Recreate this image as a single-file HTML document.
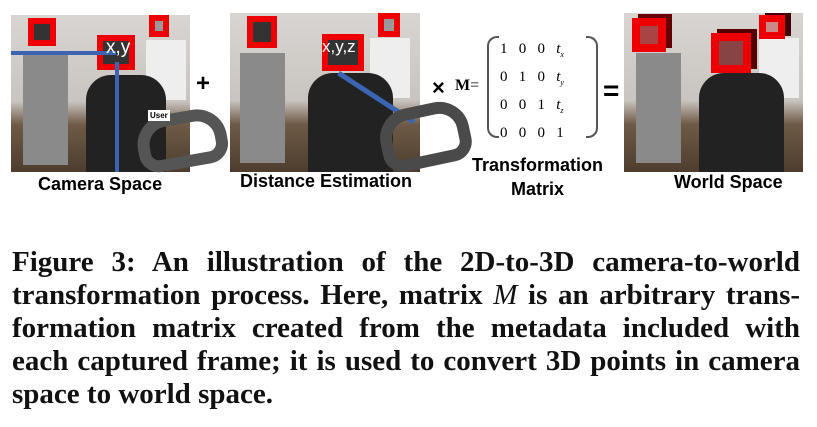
<!DOCTYPE html>
<html><head><style>
body{margin:0;width:817px;height:427px;background:#fff;position:relative;overflow:hidden;font-family:"Liberation Sans",sans-serif}
.a{position:absolute}
.photo{position:absolute;overflow:hidden;background:linear-gradient(#d8d5d2 0%,#c9c4bf 55%,#6e5a46 70%,#4e3d2e 100%)}
.rb{position:absolute;border:6px solid #e00;box-sizing:border-box;background:#333}
.lbl{position:absolute;font-weight:bold;font-size:18px;color:#000}
.cap{position:absolute;left:12px;width:788px;font-family:"Liberation Serif",serif;font-weight:bold;font-size:29px;line-height:33px;text-align:justify;text-align-last:justify;color:#111;white-space:nowrap}
.cap.last{text-align-last:left}
</style></head><body>
<!-- photo 1 -->
<div class="photo" style="left:11px;top:15px;width:179px;height:157px">
 <div class="a" style="left:12px;top:40px;width:45px;height:110px;background:#8a8a8a"></div>
 <div class="a" style="left:135px;top:25px;width:40px;height:60px;background:#eee"></div>
 <div class="a" style="left:75px;top:60px;width:80px;height:97px;background:#222;border-radius:25px 25px 0 0"></div>
 <div class="rb" style="left:17px;top:3px;width:28px;height:28px"></div>
 <div class="rb" style="left:138px;top:0px;width:20px;height:22px;background:#999"></div>
 <div class="rb" style="left:86px;top:20px;width:38px;height:35px"></div>
 <div class="a" style="left:0;top:36px;width:105px;height:4px;background:#3b64b3"></div>
 <div class="a" style="left:104px;top:47px;width:4px;height:110px;background:#3b64b3"></div>
 <div class="a" style="left:95px;top:22px;color:#fff;font-size:19px">x,y</div>
</div>
<div class="a" style="left:137px;top:112px;width:90px;height:56px;border:12px solid #555;border-radius:30px 30px 20px 20px;box-sizing:border-box;transform:rotate(-10deg)"></div>
<div class="a" style="left:148px;top:110px;background:#fff;font-size:8px;font-weight:bold;padding:1px 2px">User</div>
<div class="a" style="left:196px;top:70px;font-size:24px;font-weight:bold">+</div>
<!-- photo 2 -->
<div class="photo" style="left:230px;top:13px;width:190px;height:159px">
 <div class="a" style="left:10px;top:40px;width:45px;height:110px;background:#8a8a8a"></div>
 <div class="a" style="left:140px;top:25px;width:40px;height:60px;background:#eee"></div>
 <div class="a" style="left:78px;top:60px;width:85px;height:99px;background:#222;border-radius:25px 25px 0 0"></div>
 <div class="rb" style="left:17px;top:3px;width:30px;height:32px"></div>
 <div class="rb" style="left:148px;top:0px;width:22px;height:24px;background:#999"></div>
 <div class="rb" style="left:92px;top:21px;width:42px;height:37px"></div>
 <div class="a" style="left:92px;top:24px;color:#fff;font-size:17px">x,y,z</div>
 <div class="a" style="width:90px;height:5px;background:#3b64b3;transform:rotate(33deg);transform-origin:0 0;left:110px;top:58px"></div>
</div>
<div class="a" style="left:380px;top:105px;width:90px;height:62px;border:12px solid #4a4a4a;border-radius:30px 30px 20px 20px;box-sizing:border-box;transform:rotate(-12deg)"></div>
<div class="lbl" style="left:38px;top:174px">Camera Space</div>
<div class="lbl" style="left:240px;top:171px">Distance Estimation</div>
<!-- matrix -->
<div class="a" style="left:432px;top:75px;font-size:22px;font-weight:bold">×</div>
<div class="a" style="left:455px;top:77px;font-family:'Liberation Serif',serif;font-weight:bold;font-size:16px">M<span style="font-weight:normal">=</span></div>
<div class="a" style="left:487px;top:36px;width:10px;height:98px;border:2px solid #555;border-right:none;border-radius:10px 0 0 10px"></div>
<div class="a" style="left:586px;top:36px;width:10px;height:98px;border:2px solid #555;border-left:none;border-radius:0 10px 10px 0"></div>
<div class="a" style="left:500px;top:38px;font-family:'Liberation Serif',serif;font-size:15px;line-height:23px;white-space:pre">1   0   0   <i>t<sub style="font-size:8px">x</sub></i>
0   1   0   <i>t<sub style="font-size:8px">y</sub></i>
0   0   1   <i>t<sub style="font-size:8px">z</sub></i>
0   0   0   1</div>
<div class="a" style="left:603px;top:75px;font-size:28px;font-weight:bold">=</div>
<div class="lbl" style="left:472px;top:155px">Transformation</div>
<div class="lbl" style="left:511px;top:179px">Matrix</div>
<!-- photo 3 -->
<div class="photo" style="left:624px;top:13px;width:179px;height:159px">
 <div class="a" style="left:12px;top:40px;width:45px;height:110px;background:#8a8a8a"></div>
 <div class="a" style="left:135px;top:25px;width:40px;height:60px;background:#eee"></div>
 <div class="a" style="left:75px;top:60px;width:85px;height:99px;background:#222;border-radius:25px 25px 0 0"></div>
 <div class="rb" style="left:8px;top:5px;width:34px;height:34px;border-width:8px;background:#a44;box-shadow:6px -4px 0 #600"></div>
 <div class="rb" style="left:135px;top:2px;width:26px;height:24px;border-width:7px;background:#c88;box-shadow:6px -3px 0 #400"></div>
 <div class="rb" style="left:87px;top:20px;width:40px;height:40px;border-width:8px;background:#844;box-shadow:6px -4px 0 #500"></div>
</div>
<div class="lbl" style="left:674px;top:172px">World Space</div>
<!-- caption -->
<div class="cap" style="top:246px">Figure 3: An illustration of the 2D-to-3D camera-to-world</div>
<div class="cap" style="top:279px">transformation process. Here, matrix <i style="font-weight:normal">M</i> is an arbitrary trans-</div>
<div class="cap" style="top:312px">formation matrix created from the metadata included with</div>
<div class="cap" style="top:345px">each captured frame; it is used to convert 3D points in camera</div>
<div class="cap last" style="top:378px">space to world space.</div>
</body></html>
